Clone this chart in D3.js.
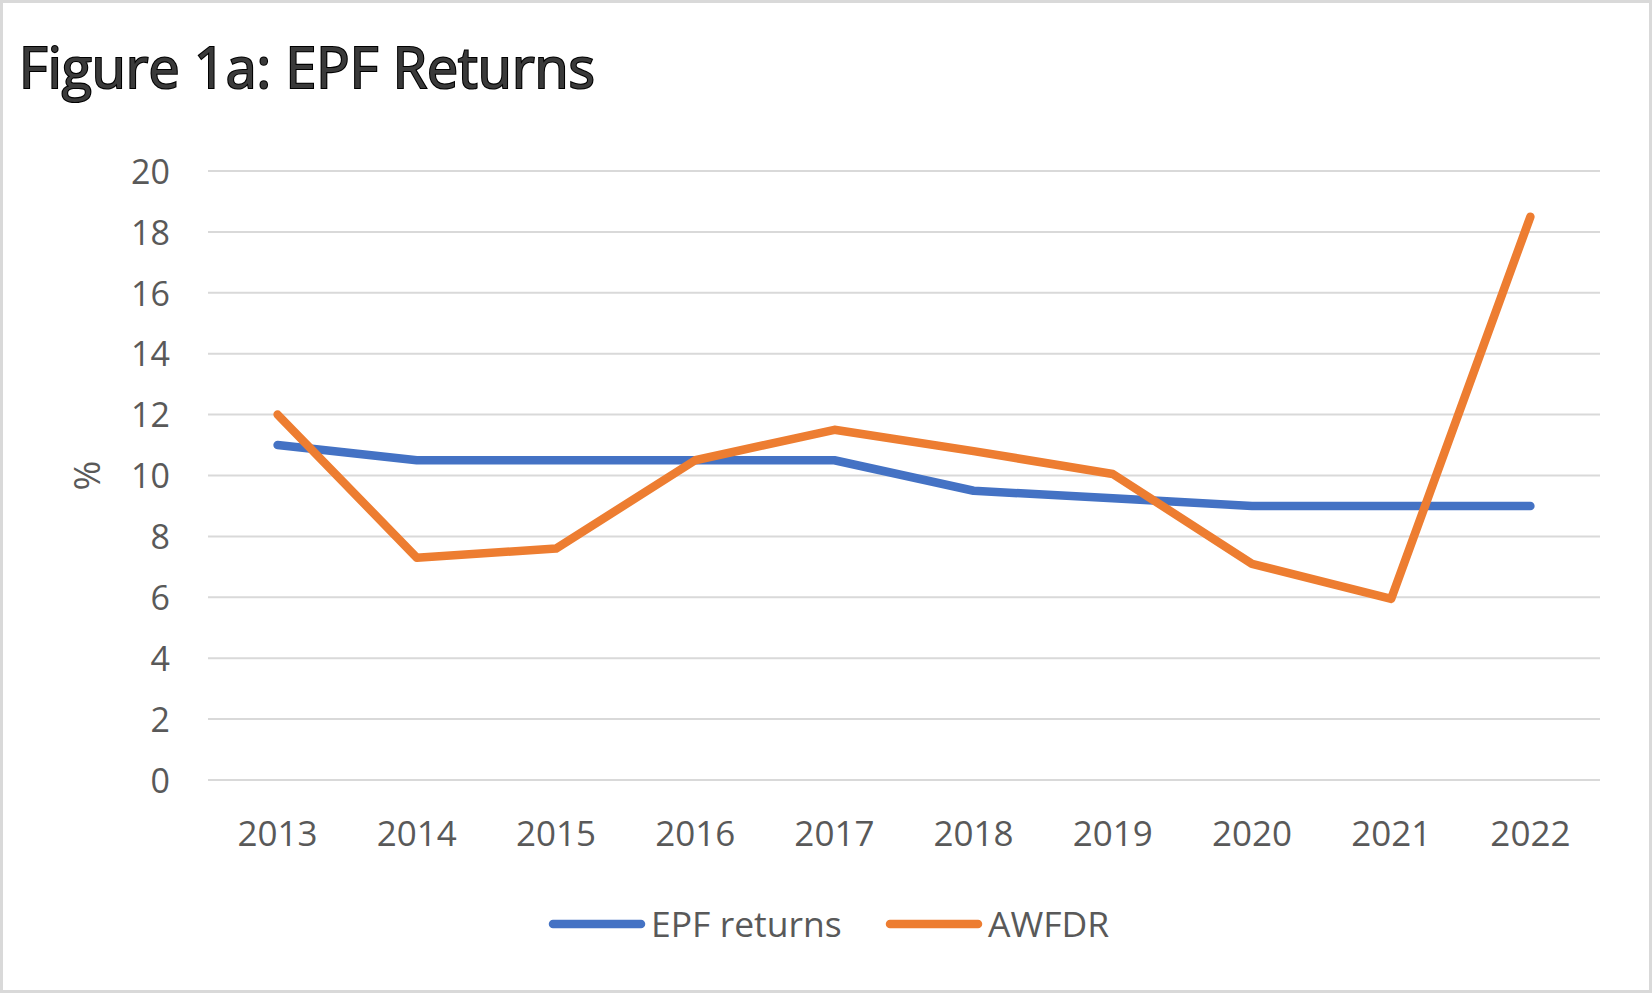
<!doctype html>
<html>
<head>
<meta charset="utf-8">
<script src="https://cdn.jsdelivr.net/npm/d3@7"></script>
<style>
html,body{margin:0;background:#fff;overflow:hidden;}
text{font-family:"Open Sans",sans-serif;}
</style>
</head>
<body>
<script>
// data
var years = ["2013","2014","2015","2016","2017","2018","2019","2020","2021","2022"];
var epfReturns = [11.0, 10.5, 10.5, 10.5, 10.5, 9.5, 9.25, 9.0, 9.0, 9.0];
var awfdr = [12.0, 7.3, 7.6, 10.5, 11.5, 10.8, 10.05, 7.1, 5.95, 18.5];
var yTicks = [0,2,4,6,8,10,12,14,16,18,20];
var seriesNames = ["EPF returns","AWFDR"];
var seriesColors = ["#4472C4","#ED7D31"];

(function(){
    var W = 1652, H = 993,
        left = 208, right = 1600, top = 171, bottom = 780;

    var svg = d3.select("body").append("svg")
        .attr("width", W).attr("height", H);

    svg.append("rect")
        .attr("x", 1.5).attr("y", 1.5)
        .attr("width", W - 3).attr("height", H - 3)
        .attr("fill", "#fff").attr("stroke", "#d9d9d9").attr("stroke-width", 3);

    svg.append("text")
        .attr("x", 19).attr("y", 88)
        .attr("textLength", 576).attr("lengthAdjust", "spacingAndGlyphs")
        .style("font-size", "57px")
        .attr("fill", "#3a3a3a").attr("stroke", "#000").attr("stroke-width", 2.2)
        .attr("paint-order", "stroke")
        .text("Figure 1a: EPF Returns");

    var x = d3.scaleBand().domain(years).range([left, right]);
    var y = d3.scaleLinear().domain([0, 20]).range([bottom, top]);

    // gridlines
    svg.append("g").selectAll("line").data(yTicks).enter().append("line")
        .attr("x1", left).attr("x2", right)
        .attr("y1", function(d){return y(d)}).attr("y2", function(d){return y(d)})
        .attr("stroke", "#d9d9d9").attr("stroke-width", 2);

    var yAxis = svg.append("g")
        .attr("transform", "translate(" + (left - 38) + ",0)")
        .call(d3.axisLeft(y).tickValues(yTicks).tickSize(0).tickPadding(0));
    yAxis.select(".domain").remove();
    yAxis.selectAll("text").attr("fill", "#595959").style("font-size", "34px").attr("dy", "0.36em");

    var xAxis = svg.append("g")
        .attr("transform", "translate(0," + bottom + ")")
        .call(d3.axisBottom(x).tickSize(0).tickPadding(0));
    xAxis.select(".domain").remove();
    xAxis.selectAll("text").attr("fill", "#595959").style("font-size", "35px").attr("y", 66).attr("dy", 0);

    svg.append("text")
        .attr("transform", "translate(100," + y(10) + ") rotate(-90)")
        .attr("text-anchor", "middle")
        .attr("fill", "#595959").style("font-size", "36px")
        .text("%");

    var line = d3.line()
        .x(function(d, i){return x(years[i]) + x.bandwidth() / 2})
        .y(function(d){return y(d)});

    [epfReturns, awfdr].forEach(function(s, i){
        svg.append("path").datum(s)
            .attr("d", line)
            .attr("fill", "none")
            .attr("stroke", seriesColors[i])
            .attr("stroke-width", 8.5)
            .attr("stroke-linecap", "round")
            .attr("stroke-linejoin", "round");
    });

    // legend
    var legX = [553, 890];
    var leg = svg.append("g").selectAll("g").data(seriesNames).enter().append("g")
        .attr("transform", function(d, i){return "translate(" + legX[i] + ",924)"});
    leg.append("line")
        .attr("x1", 0).attr("x2", 88)
        .attr("stroke", function(d, i){return seriesColors[i]})
        .attr("stroke-width", 8.5).attr("stroke-linecap", "round");
    leg.append("text")
        .attr("x", 98).attr("dy", "0.36em")
        .attr("fill", "#595959").style("font-size", "35.5px")
        .text(function(d){return d});
})();
</script>
</body>
</html>
